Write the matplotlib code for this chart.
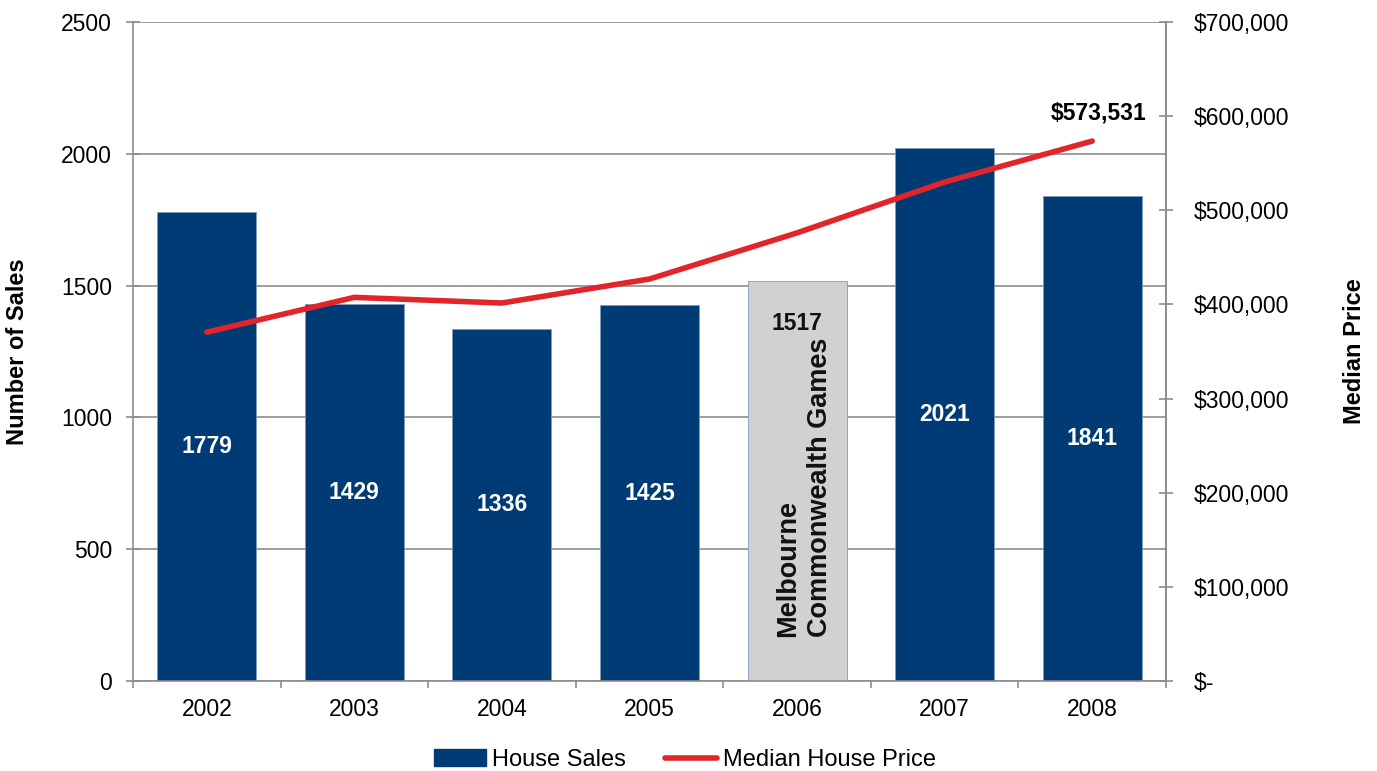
import matplotlib
matplotlib.use("Agg")
import matplotlib.pyplot as plt
from matplotlib.patches import Patch
from matplotlib.lines import Line2D
from matplotlib.ticker import FuncFormatter
from matplotlib import font_manager

plt.rcParams['font.family'] = ['Liberation Sans', 'DejaVu Sans']

years = ['2002', '2003', '2004', '2005', '2006', '2007', '2008']
sales = [1779, 1429, 1336, 1425, 1517, 2021, 1841]
prices = [370500, 407500, 401500, 427000, 476000, 530000, 573531]
highlight_year = '2006'
highlight_text = 'Melbourne\nCommonwealth Games'

navy = '#003B75'
grey_bar = '#D0D1D3'
red = '#E2242B'
axis_grey = '#8C8C8C'

names = {f.name for f in font_manager.fontManager.ttflist}
narrow = 'Liberation Sans Narrow' if 'Liberation Sans Narrow' in names else 'Liberation Sans'

FS = 16.5

fig = plt.figure(figsize=(13.77, 7.71), dpi=100)
ax = fig.add_axes([133/1377, 1-681/771, (1166-133)/1377, (681-22)/771])
ax2 = ax.twinx()

x = list(range(len(years)))
colors = [grey_bar if y == highlight_year else navy for y in years]
ax.bar(x, sales, width=0.67, color=colors, edgecolor='#7f9cbf', linewidth=0.6, zorder=2)
ax.set_xlim(-0.5, len(years) - 0.5)
ax.set_ylim(0, 2500)
ax.set_yticks(range(0, 2501, 500))
ax.yaxis.grid(True, color=axis_grey, linewidth=1.2, zorder=0)
ax.set_axisbelow(True)

ax.set_xticks(x)
ax.set_xticklabels(years, fontsize=FS)
ax.set_xticks([i - 0.5 for i in range(len(years) + 1)], minor=True)
ax.tick_params(axis='x', which='major', length=0, pad=12)
ax.tick_params(axis='x', which='minor', length=5, color=axis_grey, width=1.2, direction='out')
ax.tick_params(axis='y', length=10, direction='inout', color=axis_grey, width=1.2, labelsize=FS, pad=10)

ax.spines['top'].set_visible(False)
ax2.spines['top'].set_visible(False)
for s in ['left', 'bottom', 'right']:
    ax.spines[s].set_color(axis_grey)
    ax.spines[s].set_linewidth(1.2)
ax2.spines['right'].set_color(axis_grey)
ax2.spines['right'].set_linewidth(1.2)
ax2.spines['left'].set_visible(False)
ax2.spines['bottom'].set_visible(False)

ax.set_ylabel('Number of Sales', fontsize=17, fontweight='bold', family=[narrow, 'Liberation Sans'])
ax.yaxis.set_label_coords((29 - 133) / 1033, 0.5)

ax2.plot(x, prices, color=red, linewidth=4, solid_capstyle='round', zorder=3)
ax2.set_ylim(0, 700000)
ax2.set_yticks(range(0, 700001, 100000))
ax2.yaxis.set_major_formatter(FuncFormatter(lambda v, p: '$-' if v == 0 else '${:,.0f}'.format(v)))
ax2.tick_params(axis='y', length=10, direction='inout', color=axis_grey, width=1.2, labelsize=FS, pad=15)
ax2.set_ylabel('Median Price', fontsize=17, fontweight='bold', rotation=90, family=[narrow, 'Liberation Sans'])
ax2.yaxis.set_label_coords((1343 - 133) / 1033, 0.5)

for xi, (yr, v) in enumerate(zip(years, sales)):
    if yr == highlight_year:
        ax.text(xi, v - 160, str(v), ha='center', va='center', fontsize=FS, fontweight='bold', color='#111111', zorder=4)
        ax.text(xi + 0.05, 736, highlight_text, ha='center', va='center', rotation=90, multialignment='left',
                fontsize=19.5, fontweight='bold', color='#111111', linespacing=1.3, zorder=4)
    else:
        ax.text(xi, v / 2, str(v), ha='center', va='center', fontsize=FS, fontweight='bold', color='white', zorder=4)

ax2.annotate('${:,.0f}'.format(prices[-1]), (x[-1], prices[-1]), xytext=(4.5, 20), textcoords='offset points',
             ha='center', va='center', fontsize=FS, fontweight='bold', color='black')

handles = [Patch(facecolor=navy, edgecolor=navy), Line2D([0], [0], color=red, linewidth=4, solid_capstyle='round')]
fig.legend(handles, ['House Sales', 'Median House Price'], loc='center', bbox_to_anchor=(685/1377, 1 - 760/771),
           ncol=2, frameon=False, fontsize=17, handlelength=2.2, handletextpad=0.25, columnspacing=1.65)

fig.savefig('out.png', dpi=100)
